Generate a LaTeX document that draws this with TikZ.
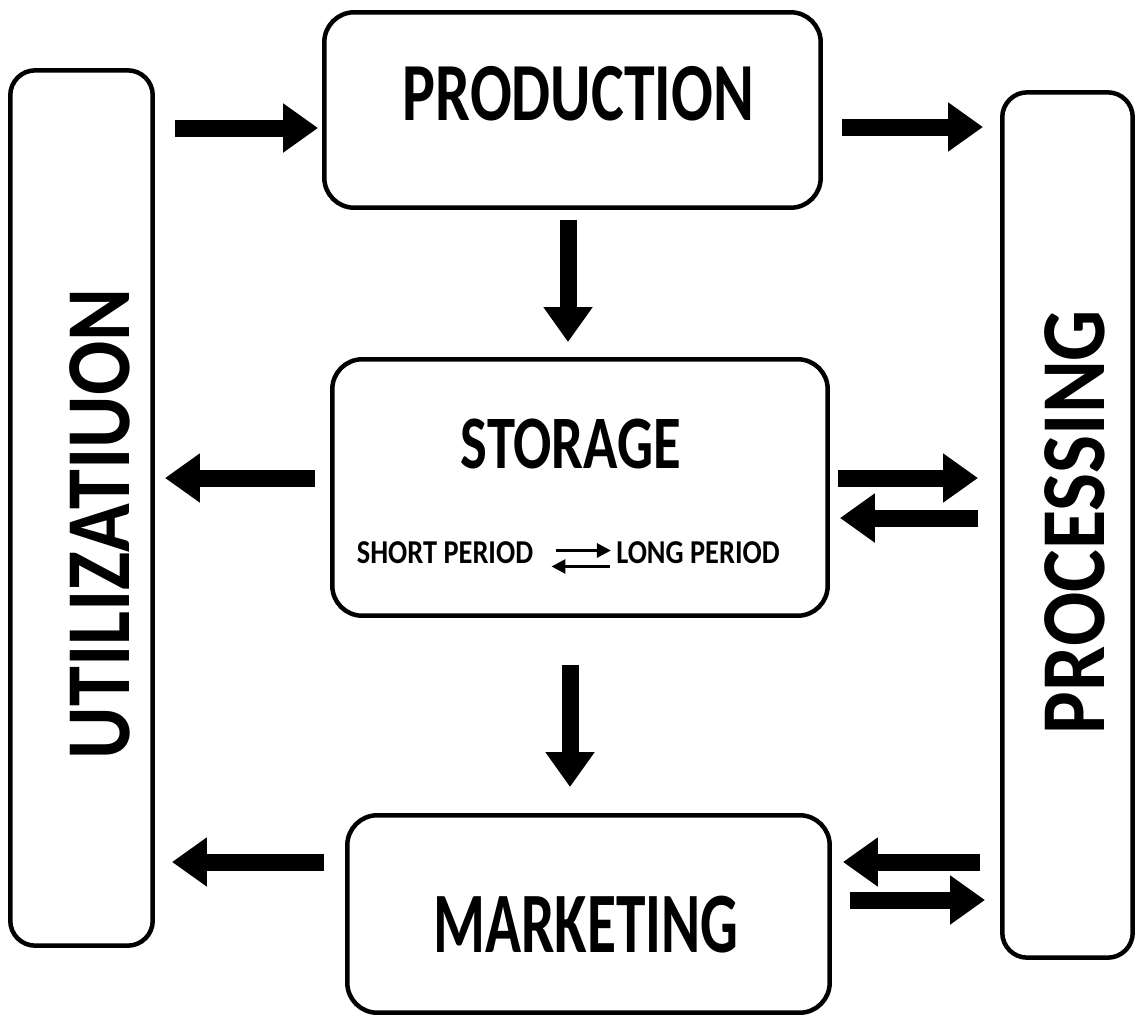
\documentclass[tikz,border=0pt]{standalone}
\usepackage{fontspec}
\setmainfont{Carlito}
\newfontfamily\titlefont[FakeStretch=0.75]{Carlito}
\newfontfamily\widetitlefont[FakeStretch=0.69]{Carlito}
\newfontfamily\sidefont[FakeStretch=0.88]{Carlito}
\newfontfamily\smallfont[FakeStretch=0.85]{Carlito}
\usetikzlibrary{arrows.meta}

\tikzset{
  box/.style={draw, line width=0.09cm, rounded corners=0.6cm, inner sep=0pt},
  sidebox/.style={box, rounded corners=0.5cm},
  bigarrow/.style={line width=0.34cm, -{Triangle[length=0.7cm,width=0.94cm]}},
  smallarrow/.style={line width=0.06cm, -{Triangle[length=0.28cm,width=0.28cm]}},
  title/.style={inner sep=0pt, font=\titlefont\bfseries\fontsize{47}{50}\selectfont},
  sidetitle/.style={inner sep=0pt, rotate=90, font=\sidefont\bfseries\fontsize{52}{56}\selectfont},
  small/.style={inner sep=0pt, font=\smallfont\bfseries\fontsize{19}{21}\selectfont}
}

\begin{document}
\begin{tikzpicture}[x=0.02cm, y=-0.02cm]
    \useasboundingbox (0,0) rectangle (1137,1018);

    % the five boxes
    \node[box, minimum width=9.93cm, minimum height=3.91cm] (prod) at (572.5,110) {};
    \node[box, minimum width=9.91cm, minimum height=5.13cm] (stor) at (580,487.5) {};
    \node[box, minimum width=9.65cm, minimum height=3.95cm] (mark) at (588.5,914) {};
    \node[sidebox, minimum width=2.85cm, minimum height=17.51cm] (util) at (81.5,508) {};
    \node[sidebox, minimum width=2.61cm, minimum height=17.31cm] (proc) at (1067.5,525) {};

    % box titles
    \node[title] (prodtext) at ([xshift=0.12cm,yshift=0.32cm]prod.center) {PRODUCTION};
    \node[title, font=\titlefont\bfseries\fontsize{43}{46}\selectfont] (stortext)
        at ([xshift=-0.18cm,yshift=0.87cm]stor.center) {STORAGE};
    \node[title, font=\widetitlefont\bfseries\fontsize{49}{52}\selectfont] (marktext)
        at ([xshift=-0.05cm,yshift=-0.22cm]mark.center) {MARKETING};
    \node[sidetitle] (utiltext) at ([xshift=0.37cm,yshift=-0.32cm]util.center) {UTILIZATIUON};
    \node[sidetitle] (proctext) at ([xshift=0.15cm,yshift=0.06cm]proc.center) {PROCESSING};

    % short and long period inside storage
    \node[small] (short) at ([xshift=-2.7cm,yshift=-1.3cm]stor.center) {SHORT PERIOD};
    \node[small] (long) at ([xshift=2.36cm,yshift=-1.3cm]stor.center) {LONG PERIOD};
    \draw[smallarrow, shorten <=0.46cm, shorten >=0.1cm]
        ([yshift=0.04cm]short.east) -- ([yshift=0.04cm]long.west);
    \draw[smallarrow, shorten <=0.12cm, shorten >=0.36cm]
        ([yshift=-0.28cm]long.west) -- ([yshift=-0.28cm]short.east);

    % flows between the boxes
    \draw[bigarrow, shorten <=0.4cm, shorten >=0.08cm] (util.east |- 0,128) -- (prod.west |- 0,128);
    \draw[bigarrow, shorten <=0.38cm, shorten >=0.34cm] (prod.east |- 0,127) -- (proc.west |- 0,127);
    \draw[bigarrow, shorten <=0.2cm, shorten >=0.3cm] (prod.south -| 568,0) -- (stor.north -| 568,0);
    \draw[bigarrow, shorten <=0.3cm, shorten >=0.2cm] (stor.west |- 0,478) -- (util.east |- 0,478);
    \draw[bigarrow, shorten <=0.16cm, shorten >=0.44cm] (stor.east |- 0,478) -- (proc.west |- 0,478);
    \draw[bigarrow, shorten <=0.44cm, shorten >=0.2cm] (proc.west |- 0,518) -- (stor.east |- 0,518);
    \draw[bigarrow, shorten <=0.94cm, shorten >=0.52cm] (stor.south -| 570,0) -- (mark.north -| 570,0);
    \draw[bigarrow, shorten <=0.42cm, shorten >=0.34cm] (mark.west |- 0,862) -- (util.east |- 0,862);
    \draw[bigarrow, shorten <=0.4cm, shorten >=0.22cm] (proc.west |- 0,862) -- (mark.east |- 0,862);
    \draw[bigarrow, shorten <=0.36cm, shorten >=0.3cm] (mark.east |- 0,900) -- (proc.west |- 0,900);
\end{tikzpicture}
\end{document}
